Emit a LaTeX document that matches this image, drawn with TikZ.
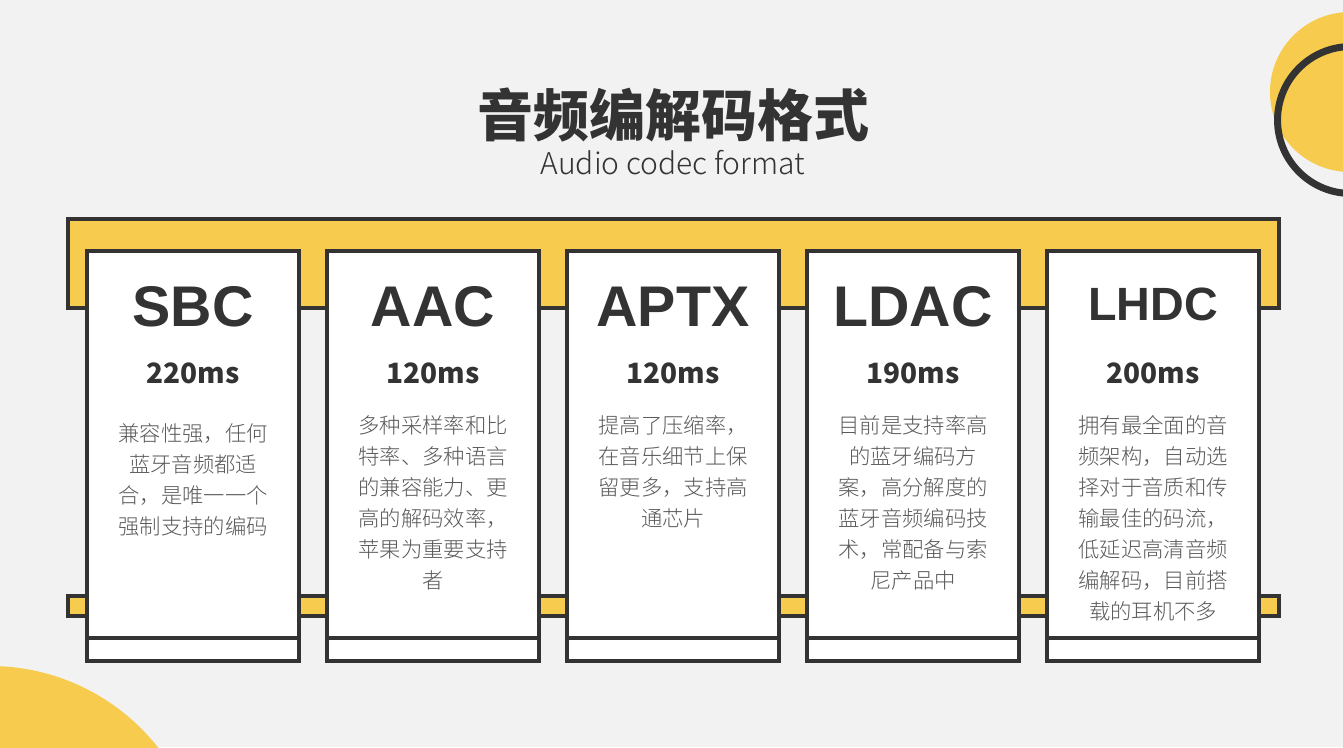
\documentclass[tikz,border=0pt]{standalone}
\usepackage{fontspec}
\setmainfont{Noto Sans CJK SC}
\newfontfamily\latinbold{Liberation Sans}
\newfontfamily\cjklight{Noto Sans CJK SC Light}
\usetikzlibrary{positioning}
\definecolor{bgGray}{HTML}{F2F2F2}
\definecolor{sunYellow}{HTML}{F7CB4D}
\definecolor{inkDark}{HTML}{333333}
\definecolor{bodyGray}{HTML}{595959}
\tikzset{
    frameLine/.style={draw=inkDark, line width=3pt},
    cardBox/.style={frameLine, fill=white},
    titleText/.style={font=\bfseries\fontsize{42}{42}\selectfont, text=inkDark, inner sep=0pt},
    subText/.style={font=\cjklight\fontsize{22.5}{22.5}\selectfont, text=inkDark, inner sep=0pt},
    codecName/.style={font=\latinbold\bfseries\fontsize{43}{43}\selectfont, text=inkDark, inner sep=0pt},
    codecDelay/.style={font=\bfseries\fontsize{21}{21}\selectfont, text=inkDark, inner sep=0pt},
    codecNote/.style={font=\cjklight\fontsize{16}{23.25}\selectfont, text=bodyGray, align=center, inner sep=0pt, anchor=north},
}
\newcommand{\drawCard}[1]{
    \draw[cardBox] ({#1-106},251) rectangle ({#1+106},660.5);
    \draw[frameLine] ({#1-106},638) -- ({#1+106},638);
}

\begin{document}
\begin{tikzpicture}[x=0.75pt, y=-0.75pt]
    \useasboundingbox (0,0) rectangle (1343,747);
    \fill[bgGray] (0,0) rectangle (1343,747);

    % corner decorations
    \begin{scope}
        \clip (0,0) rectangle (1343,747);
        \fill[sunYellow] (1350,92) circle (60pt);
        \draw[inkDark, line width=5.25pt] (1351,120) circle (55.1pt);
        \fill[sunYellow] (-10,880) circle (160.5pt);
    \end{scope}

    \node[titleText] (title) at (673,115) {音频编解码格式};
    \node[subText] (subtitle) at (673,163) {Audio codec format};

    % yellow bands behind the cards
    \draw[frameLine, fill=sunYellow] (68,219) rectangle (1279,308);
    \draw[frameLine, fill=sunYellow] (68,596) rectangle (1279,616);

    \drawCard{193}
    \drawCard{433}
    \drawCard{673}
    \drawCard{913}
    \drawCard{1153}

    \node[codecName] (sbc) at (193,307) {SBC};
    \node[codecName] (aac) at (433,307) {AAC};
    \node[codecName] (aptx) at (673,307) {APTX};
    \node[codecName] (ldac) at (913,307) {LDAC};
    \node[codecName, font=\latinbold\bfseries\fontsize{35}{35}\selectfont] (lhdc) at (1153,304) {LHDC};

    \node[codecDelay] (sbcDelay) at (193,373) {220ms};
    \node[codecDelay] (aacDelay) at (433,373) {120ms};
    \node[codecDelay] (aptxDelay) at (673,373) {120ms};
    \node[codecDelay] (ldacDelay) at (913,373) {190ms};
    \node[codecDelay] (lhdcDelay) at (1153,373) {200ms};

    \node[codecNote] (sbcNote) at (193,423) {兼容性强，任何\\蓝牙音频都适\\合，是唯一一个\\强制支持的编码};
    \node[codecNote] (aacNote) at (433,415) {多种采样率和比\\特率、多种语言\\的兼容能力、更\\高的解码效率，\\苹果为重要支持\\者};
    \node[codecNote] (aptxNote) at (673,415) {提高了压缩率，\\在音乐细节上保\\留更多，支持高\\通芯片};
    \node[codecNote] (ldacNote) at (913,415) {目前是支持率高\\的蓝牙编码方\\案，高分解度的\\蓝牙音频编码技\\术，常配备与索\\尼产品中};
    \node[codecNote] (lhdcNote) at (1153,415) {拥有最全面的音\\频架构，自动选\\择对于音质和传\\输最佳的码流，\\低延迟高清音频\\编解码，目前搭\\载的耳机不多};

\end{tikzpicture}
\end{document}
